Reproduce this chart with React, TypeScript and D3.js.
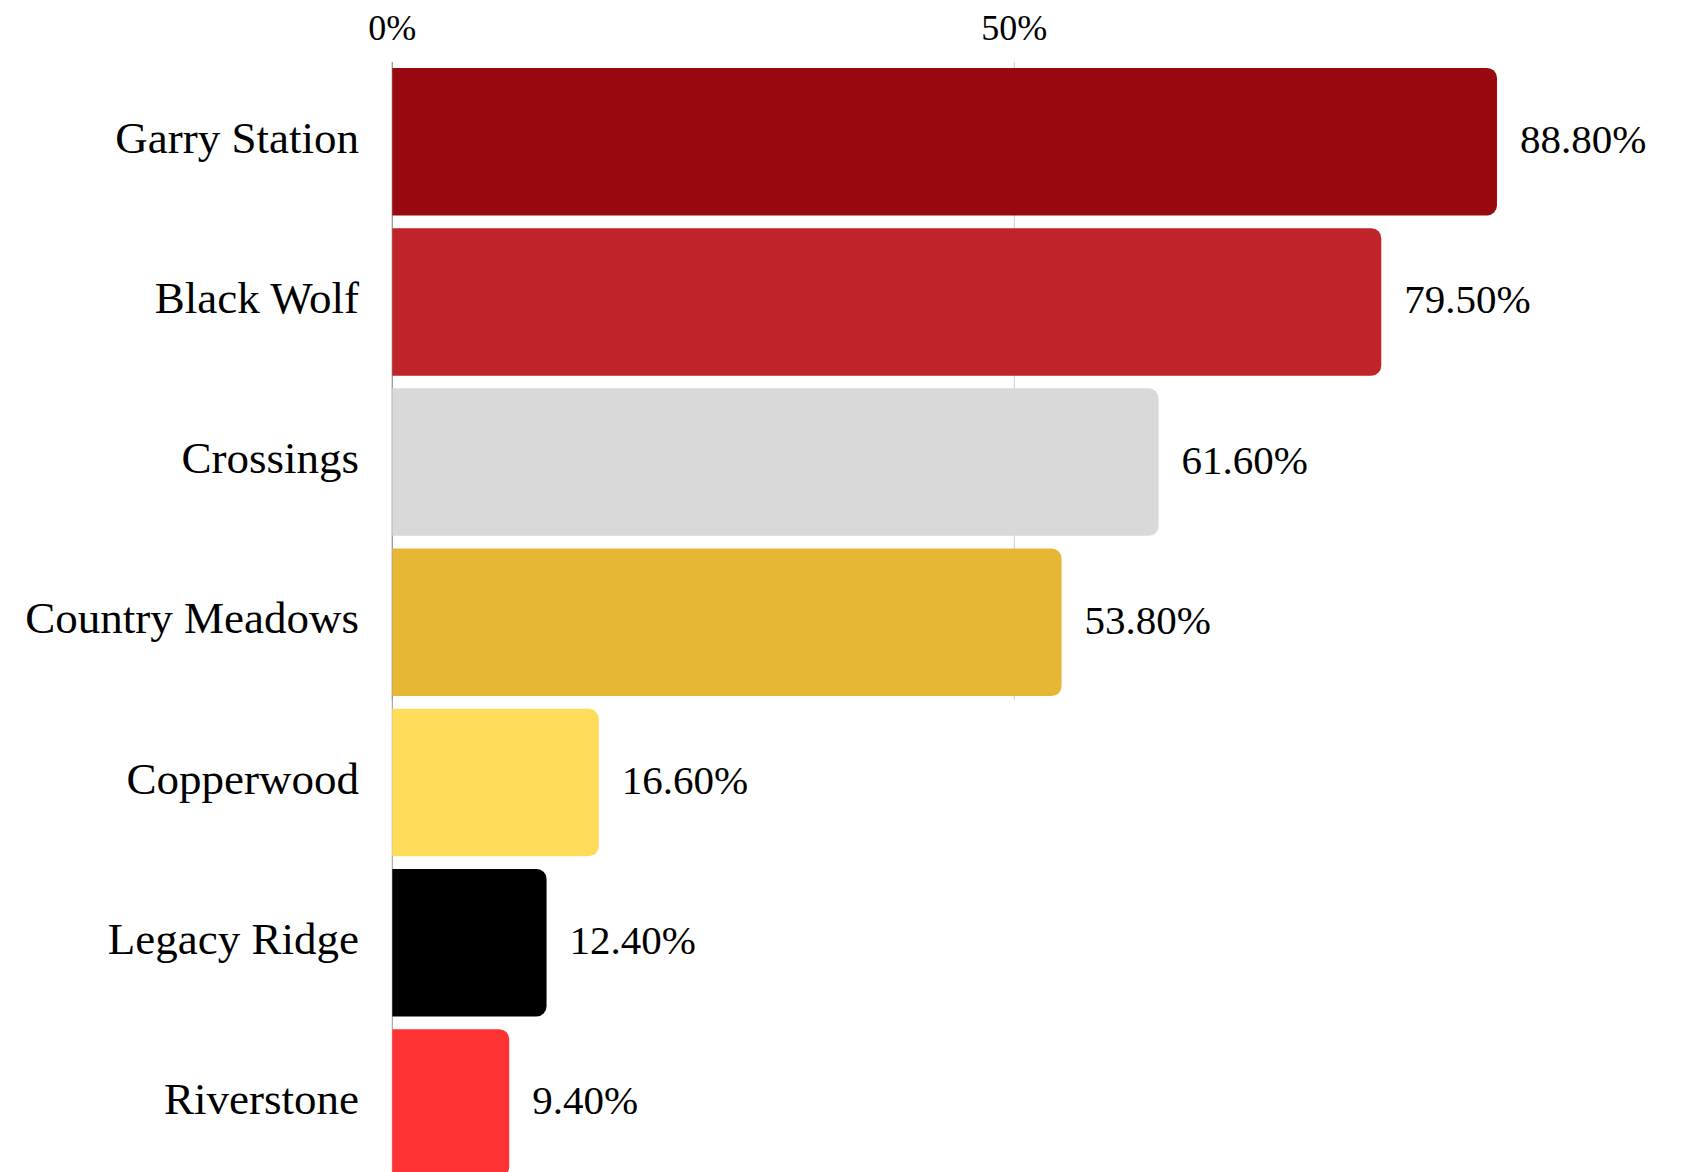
import React from "react";
import * as d3 from "d3";

const categories = ["Garry Station", "Black Wolf", "Crossings", "Country Meadows", "Copperwood", "Legacy Ridge", "Riverstone"];
const values = [88.8, 79.5, 61.6, 53.8, 16.6, 12.4, 9.4];
const colors = ["#990a10", "#c0242a", "#d9d9d9", "#e5b734", "#ffdd5b", "#000000", "#ff3333"];
const ticks = [0, 50];

const W = 1690;
const H = 1172;

function barPath(x0: number, y0: number, w: number, h: number, r: number) {
  const rr = Math.min(r, w / 2, h / 2);
  const p = d3.path();
  p.moveTo(x0, y0);
  p.lineTo(x0 + w - rr, y0);
  p.arcTo(x0 + w, y0, x0 + w, y0 + rr, rr);
  p.lineTo(x0 + w, y0 + h - rr);
  p.arcTo(x0 + w, y0 + h, x0 + w - rr, y0 + h, rr);
  p.lineTo(x0, y0 + h);
  p.closePath();
  return p.toString();
}

export default function App() {
  const x = d3.scaleLinear().domain([0, 100]).range([392.3, 1636.3]);
  const y = d3
    .scaleBand<string>()
    .domain(categories)
    .range([61.6, 61.6 + 7 * 160.2])
    .paddingInner(0.079)
    .paddingOuter(0.0395);
  const font = "'Liberation Serif', 'DejaVu Serif', serif";
  return (
    <svg
      width={W}
      height={H}
      style={{ position: "absolute", left: 0, top: 0, background: "#fff" }}
      fontFamily={font}
    >
      {ticks.map((t) => (
        <g key={t}>
          <line x1={x(t)} x2={x(t)} y1={62} y2={700} stroke={t === 0 ? "#999" : "#cccccc"} strokeWidth={1} />
          <text x={x(t)} y={40} textAnchor="middle" fontSize={36} fill="#000">
            {t}%
          </text>
        </g>
      ))}
      <line x1={x(0)} x2={x(0)} y1={62} y2={H} stroke="#999" strokeWidth={1} />
      {categories.map((c, i) => {
        const y0 = y(c)!;
        const bh = y.bandwidth();
        const cy = y0 + bh / 2;
        return (
          <g key={c}>
            <path d={barPath(x(0), y0, x(values[i]) - x(0), bh, 10)} fill={colors[i]} />
            <text x={359} y={cy + 11} textAnchor="end" fontSize={45} fill="#000">
              {c}
            </text>
            <text x={x(values[i]) + 23} y={cy + 11.5} textAnchor="start" fontSize={41} fill="#000">
              {values[i].toFixed(2)}%
            </text>
          </g>
        );
      })}
    </svg>
  );
}
